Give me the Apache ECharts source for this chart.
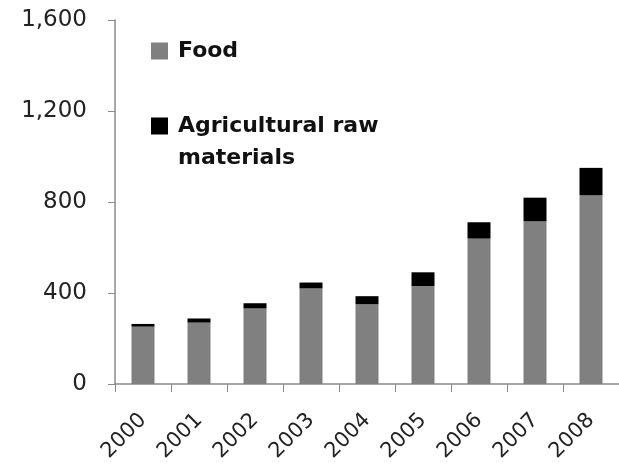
<!DOCTYPE html>
<html><head><meta charset="utf-8">
<script src="https://cdn.jsdelivr.net/npm/echarts@6/dist/echarts.min.js"></script>
<style>html,body{margin:0;padding:0;background:#fff}#c{width:619px;height:465px}</style>
</head><body><div id="c"></div>
<script>
const years = ['2000','2001','2002','2003','2004','2005','2006','2007','2008'];
const food = [252, 270, 332, 420, 350, 430, 639, 716, 829];
const agri = [12, 18, 23, 26, 36, 61, 72, 103, 121];
const yTicks = {min: 0, max: 1600, interval: 400};

const chart = echarts.init(document.getElementById('c'));
const font = 'DejaVu Sans';
chart.setOption({
  animation: false,
  grid: {left: 115, top: 20, width: 517.5, height: 364},
  legend: [
    {data: ['Food'], left: 151, top: 39, orient: 'vertical', itemWidth: 17, itemHeight: 17,
     icon: 'rect', padding: 0, selectedMode: false,
     textStyle: {fontFamily: font, fontWeight: 'bold', fontSize: 22, color: '#111', lineHeight: 24, padding: [0,0,0,5]}},
    {data: ['Agricultural raw materials'], left: 151, top: 110, orient: 'vertical', itemWidth: 17, itemHeight: 49,
     icon: 'path://M0,0h17v17h-17z M0,48.99h0.01v0.01h-0.01z', padding: 0, selectedMode: false,
     formatter: () => 'Agricultural raw\nmaterials',
     textStyle: {fontFamily: font, fontWeight: 'bold', fontSize: 22, color: '#111', lineHeight: 32, padding: [0,0,0,5]}}
  ],
  xAxis: {
    type: 'category', data: years,
    axisLine: {lineStyle: {color: '#8a8a8a', width: 1.5}},
    axisTick: {show: true, alignWithLabel: false, length: 8, lineStyle: {color: '#8a8a8a'}},
    axisLabel: {rotate: 45, margin: 33, fontFamily: font, fontSize: 21, color: '#222'}
  },
  yAxis: {
    type: 'value', min: yTicks.min, max: yTicks.max, interval: yTicks.interval,
    splitLine: {show: false},
    axisLine: {show: true, lineStyle: {color: '#8a8a8a', width: 1.5}},
    axisTick: {show: true, length: 7, lineStyle: {color: '#8a8a8a'}},
    axisLabel: {margin: 28, fontFamily: font, fontSize: 23, color: '#222',
      formatter: v => v.toLocaleString('en-US')}
  },
  series: [
    {name: 'Food', type: 'bar', stack: 't', data: food, barWidth: 23, itemStyle: {color: '#808080'}},
    {name: 'Agricultural raw materials', type: 'bar', stack: 't', data: agri, barWidth: 23, itemStyle: {color: '#000'}}
  ]
});
</script></body></html>
